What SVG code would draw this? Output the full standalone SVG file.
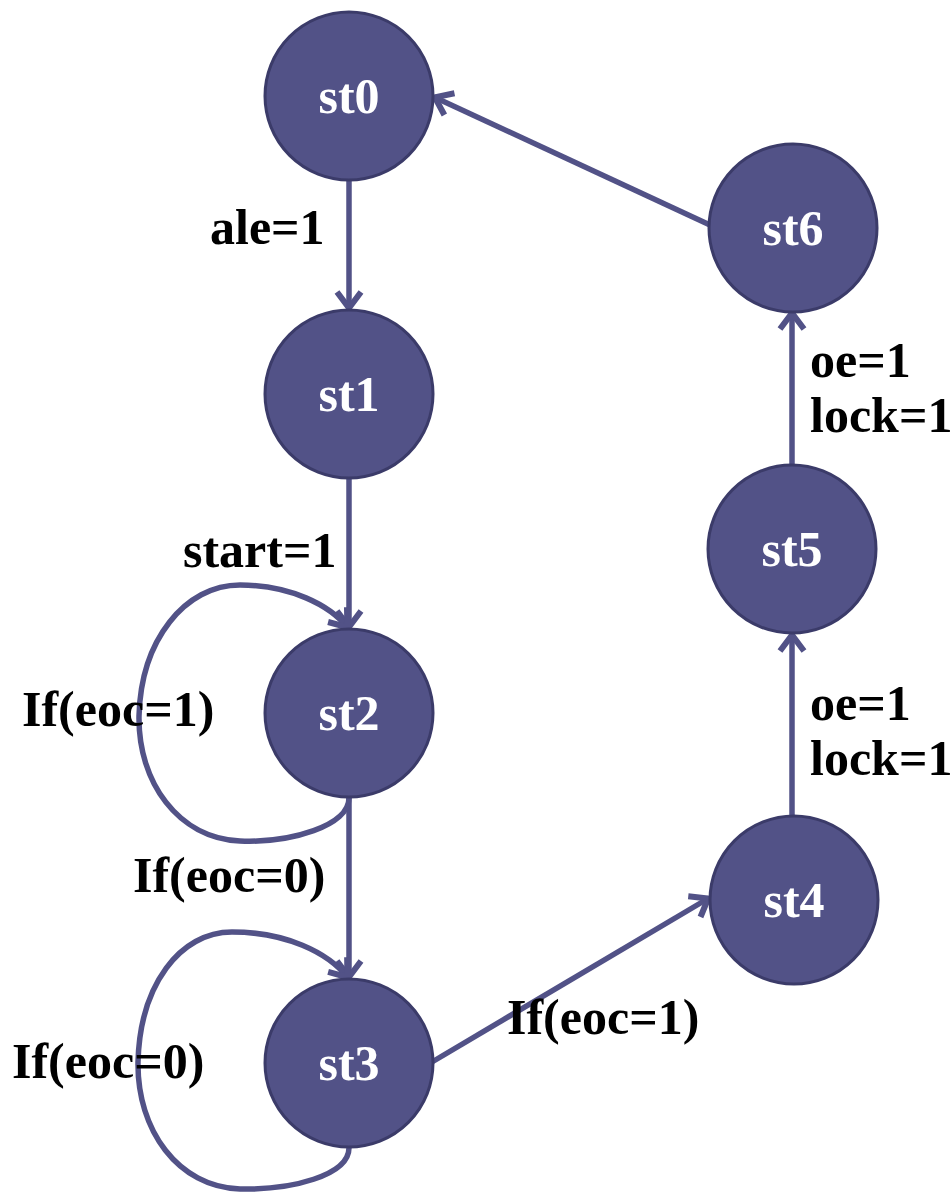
<svg xmlns="http://www.w3.org/2000/svg" width="951" height="1194" viewBox="0 0 951 1194">
  <style>
    .state circle { fill: #525287; stroke: #3b3b69; stroke-width: 3; }
    .state text { fill: #ffffff; font-family: "Liberation Serif", serif; font-size: 50px; font-weight: bold; text-anchor: middle; }
    .edge { fill: none; stroke: #525287; stroke-width: 5.5; }
    .label { fill: #000000; font-family: "Liberation Serif", serif; font-size: 50px; font-weight: bold; }
  </style>
  <defs>
    <marker id="arrow" markerUnits="userSpaceOnUse" markerWidth="34" markerHeight="34" viewBox="-22 -17 26 34" refX="0" refY="0" orient="auto">
      <path d="M -17 -12 L -1 0 L -17 12" fill="none" stroke="#525287" stroke-width="6"/>
    </marker>
  </defs>
  <rect width="951" height="1194" fill="#ffffff"/>

  <!-- transitions -->
  <g id="connectors">
    <path class="edge" d="M 349 180 L 349 309" marker-end="url(#arrow)"/>
    <path class="edge" d="M 349 478 L 349 628" marker-end="url(#arrow)"/>
    <path class="edge" d="M 349 797 L 349 978" marker-end="url(#arrow)"/>
    <path class="edge" d="M 432 1062 L 709 898" marker-end="url(#arrow)"/>
    <path class="edge" d="M 792 816 L 792 634" marker-end="url(#arrow)"/>
    <path class="edge" d="M 792 465 L 792 312" marker-end="url(#arrow)"/>
    <path class="edge" d="M 710 225 L 434 97" marker-end="url(#arrow)"/>
    <!-- self loops -->
    <path class="edge" d="M 349 797 C 350 826, 290 843, 240 841 C 178 838, 138 782, 139 716 C 141 640, 185 585, 240 585 C 290 585, 330 605, 348 628" marker-end="url(#arrow)"/>
    <path class="edge" d="M 349 1147 C 350 1176, 290 1190, 240 1189 C 178 1187, 137 1130, 138 1062 C 140 985, 180 932, 232 932 C 285 932, 328 952, 348 978" marker-end="url(#arrow)"/>
  </g>

  <!-- transition labels -->
  <g id="labels">
    <text class="label" x="210" y="244">ale=1</text>
    <text class="label" x="183" y="567">start=1</text>
    <text class="label" x="22" y="726">If(eoc=1)</text>
    <text class="label" x="133" y="892">If(eoc=0)</text>
    <text class="label" x="12" y="1078">If(eoc=0)</text>
    <text class="label" x="507" y="1034">If(eoc=1)</text>
    <text class="label" x="810" y="377">oe=1</text>
    <text class="label" x="810" y="432">lock=1</text>
    <text class="label" x="810" y="720">oe=1</text>
    <text class="label" x="810" y="775">lock=1</text>
  </g>

  <g id="st0" class="state"><circle cx="349" cy="96" r="84"/><text x="349" y="113">st0</text></g>
  <g id="st1" class="state"><circle cx="349" cy="394" r="84"/><text x="349" y="411">st1</text></g>
  <g id="st2" class="state"><circle cx="349" cy="713" r="84"/><text x="349" y="730">st2</text></g>
  <g id="st3" class="state"><circle cx="349" cy="1063" r="84"/><text x="349" y="1080">st3</text></g>
  <g id="st4" class="state"><circle cx="794" cy="900" r="84"/><text x="794" y="917">st4</text></g>
  <g id="st5" class="state"><circle cx="792" cy="549" r="84"/><text x="792" y="566">st5</text></g>
  <g id="st6" class="state"><circle cx="793" cy="228" r="84"/><text x="793" y="245">st6</text></g>
</svg>
